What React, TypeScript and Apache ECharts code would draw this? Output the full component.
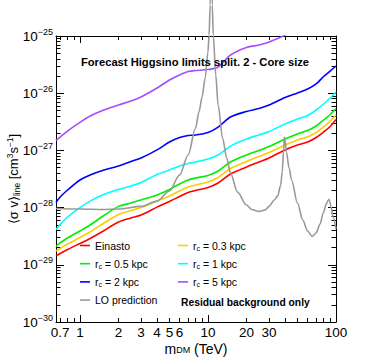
import { useEffect, useRef } from "react";
import * as echarts from "echarts";

const FONT = '"Liberation Sans", Arial, Helvetica, sans-serif';

// DM mass grid (TeV) for the forecast limit curves
const MASS_TEV = [0.65, 0.7, 0.8, 1, 1.2, 1.5, 2, 2.5, 3, 4, 5, 6, 7, 8, 10, 12, 15, 20, 25, 30, 40, 50, 60, 70, 80, 90, 100];

// <sigma v>_line limits (cm^3 s^-1)
const EINASTO = [1.43e-29, 1.58e-29, 1.85e-29, 2.36e-29, 2.88e-29, 3.82e-29, 5.6e-29, 6.58e-29, 7.42e-29, 1.02e-28, 1.28e-28, 1.56e-28, 1.84e-28, 1.99e-28, 2.25e-28, 2.69e-28, 3.87e-28, 5.13e-28, 6.27e-28, 7.36e-28, 1.02e-27, 1.24e-27, 1.4e-27, 1.68e-27, 2.1e-27, 2.62e-27, 3.47e-27];
const RC_03 = [1.74e-29, 1.93e-29, 2.31e-29, 3.0e-29, 3.75e-29, 5.17e-29, 7.57e-29, 8.9e-29, 1.0e-28, 1.3e-28, 1.6e-28, 1.95e-28, 2.29e-28, 2.48e-28, 2.8e-28, 3.36e-28, 4.83e-28, 6.4e-28, 7.82e-28, 9.19e-28, 1.24e-27, 1.52e-27, 1.72e-27, 2.06e-27, 2.57e-27, 3.27e-27, 4.16e-27];
const RC_05 = [2.13e-29, 2.41e-29, 2.94e-29, 3.9e-29, 4.96e-29, 6.99e-29, 1.05e-28, 1.2e-28, 1.36e-28, 1.66e-28, 2.07e-28, 2.59e-28, 3.04e-28, 3.29e-28, 3.64e-28, 4.36e-28, 6.27e-28, 8.31e-28, 9.96e-28, 1.17e-27, 1.58e-27, 1.94e-27, 2.23e-27, 2.67e-27, 3.4e-27, 4.24e-27, 5.4e-27];
const RC_1 = [4.14e-29, 5.06e-29, 6.85e-29, 1.0e-28, 1.3e-28, 1.66e-28, 2.07e-28, 2.39e-28, 2.75e-28, 3.79e-28, 4.54e-28, 5.34e-28, 5.9e-28, 6.27e-28, 7.07e-28, 8.31e-28, 1.19e-27, 1.58e-27, 1.86e-27, 2.14e-27, 2.89e-27, 3.54e-27, 4.08e-27, 5.09e-27, 6.47e-27, 8.25e-27, 1.05e-26];
const RC_2 = [1.23e-28, 1.53e-28, 2.03e-28, 3.04e-28, 3.72e-28, 4.45e-28, 5.33e-28, 6.4e-28, 7.36e-28, 1.02e-27, 1.4e-27, 1.68e-27, 1.82e-27, 1.86e-27, 2.06e-27, 2.56e-27, 3.84e-27, 4.79e-27, 5.4e-27, 6.22e-27, 8.41e-27, 1.01e-26, 1.18e-26, 1.45e-26, 1.96e-26, 2.44e-26, 2.99e-26];
const RC_5 = [1.5e-27, 1.71e-27, 2.18e-27, 3.08e-27, 3.99e-27, 4.99e-27, 6.22e-27, 7.31e-27, 8.59e-27, 1.23e-26, 1.7e-26, 2.08e-26, 2.39e-26, 2.49e-26, 2.59e-26, 2.87e-26, 4.66e-26, 6.3e-26, 6.97e-26, 7.85e-26, 1.04e-25, 1.45e-25];

// LO prediction
const LO_MASS = [0.65, 1, 1.5, 2, 3, 4, 5, 6, 7, 8, 8.5, 9, 9.5, 10, 10.2, 10.4, 10.6, 10.8, 11, 11.5, 12, 13, 14, 15, 17, 20, 22, 25, 28, 30, 33, 35, 37, 38, 39, 39.5, 40, 41, 43, 45, 50, 55, 60, 65, 70, 75, 80, 84, 87, 88, 89, 91, 95, 100];
const LO_SIGMA = [9.65e-29, 9.45e-29, 9.26e-29, 9.45e-29, 1.05e-28, 1.3e-28, 1.95e-28, 3.72e-28, 8.31e-28, 2.46e-27, 4.69e-27, 8.58e-27, 1.84e-26, 5.25e-26, 1.04e-25, 3.48e-25, 4.76e-24, 3.48e-25, 1.04e-25, 2.08e-26, 6.22e-27, 1.65e-27, 7.36e-28, 4.03e-28, 1.87e-28, 1.11e-28, 9.26e-29, 8.55e-29, 9.08e-29, 1.05e-28, 1.36e-28, 1.6e-28, 2.48e-28, 4.19e-28, 1.02e-27, 1.72e-27, 1.52e-27, 9.38e-28, 4.92e-28, 3.04e-28, 1.2e-28, 6.07e-29, 3.9e-29, 3.13e-29, 3.6e-29, 5.17e-29, 8.38e-29, 1.16e-28, 1.36e-28, 1.39e-28, 1.33e-28, 1.07e-28, 6.85e-29, 4.23e-29];

// axis ticks / labels
const X_LABELS = [0.7, 1, 2, 3, 4, 5, 6, 10, 20, 30, 100];
const X_MAJOR = [1, 10, 100];
const X_MINOR = [0.7, 0.8, 0.9, 2, 3, 4, 5, 6, 7, 8, 9, 20, 30, 40, 50, 60, 70, 80, 90];
const Y_DECADES = [-30, -29, -28, -27, -26, -25];
const Y_MANTISSAS = [2, 3, 4, 5, 6, 7, 8, 9];

const X_MIN_TEV = 0.65;
const X_MAX_TEV = 100;

const CURVES = [
  { key: "ein", label: "Einasto", color: "#ff0000", values: EINASTO },
  { key: "rc03", label: "0.3 kpc", color: "#ffcc00", values: RC_03 },
  { key: "rc05", label: "0.5 kpc", color: "#00ee00", values: RC_05 },
  { key: "rc1", label: "1 kpc", color: "#00ffff", values: RC_1 },
  { key: "rc2", label: "2 kpc", color: "#0000ff", values: RC_2 },
  { key: "rc5", label: "5 kpc", color: "#a64dff", values: RC_5 },
];

const lg = Math.log10;

export default function App() {
  const ref = useRef<HTMLDivElement>(null);

  useEffect(() => {
    if (!ref.current) return;
    const chart = echarts.init(ref.current, undefined, { renderer: "svg" });

    const xmin = lg(X_MIN_TEV);
    const xmax = lg(X_MAX_TEV);
    const yMinorVals: number[] = [];
    Y_DECADES.slice(0, -1).forEach((d) => Y_MANTISSAS.forEach((m) => yMinorVals.push(d + lg(m))));

    const black = "#000";
    const xAx = (position: string, ticks: number[], len: number, labels: boolean, line: boolean) => ({
      type: "value",
      gridIndex: 0,
      position,
      min: xmin,
      max: xmax,
      axisLine: { show: line, onZero: false, lineStyle: { color: black, width: 1 } },
      axisTick: { show: true, inside: true, length: len, customValues: ticks, lineStyle: { color: black, width: 1 } },
      axisLabel: labels
        ? {
            show: true,
            customValues: X_LABELS.map(lg),
            formatter: (v: number) => String(Math.round(Math.pow(10, v) * 10) / 10),
            margin: 4,
            fontSize: 13.5,
            lineHeight: 12,
            fontFamily: FONT,
            color: black,
          }
        : { show: false },
      splitLine: { show: false },
    });
    const yAx = (position: string, ticks: number[], len: number, labels: boolean, line: boolean) => ({
      type: "value",
      gridIndex: 0,
      position,
      min: -30,
      max: -25,
      axisLine: { show: line, onZero: false, lineStyle: { color: black, width: 1 } },
      axisTick: { show: true, inside: true, length: len, customValues: ticks, lineStyle: { color: black, width: 1 } },
      axisLabel: labels
        ? {
            show: true,
            customValues: Y_DECADES,
            formatter: (v: number) => `{b|10}{s|−${Math.abs(Math.round(v))}}`,
            margin: 3,
            rich: {
              b: { fontSize: 13.5, lineHeight: 18, fontFamily: FONT, color: black },
              s: { fontSize: 9, lineHeight: 10, verticalAlign: "top", fontFamily: FONT, color: black },
            },
          }
        : { show: false },
      splitLine: { show: false },
    });

    const curveSeries = CURVES.map((c) => ({
      type: "line",
      name: c.key,
      xAxisIndex: 0,
      yAxisIndex: 0,
      symbol: "none",
      smooth: 0.3,
      lineStyle: { color: c.color, width: 1.6 },
      itemStyle: { color: c.color },
      data: c.values.map((v, i) => [lg(MASS_TEV[i]), lg(v)]),
    }));
    const loSeries = {
      type: "line",
      name: "lo",
      xAxisIndex: 0,
      yAxisIndex: 0,
      symbol: "none",
      smooth: 0.3,
      smoothMonotone: "x",
      clip: false,
      lineStyle: { color: "#999999", width: 1.6 },
      itemStyle: { color: "#999999" },
      data: LO_SIGMA.map((v, i) => [lg(LO_MASS[i]), lg(v)]),
    };

    const legendName = (name: string) => {
      if (name === "ein") return "Einasto";
      if (name === "lo") return "LO prediction";
      const c = CURVES.find((k) => k.key === name);
      return `{t|r}{s|c}{t| = ${c ? c.label : ""}}`;
    };
    const legendText = {
      fontSize: 10.5,
      fontFamily: FONT,
      color: black,
      lineHeight: 12,
      rich: {
        t: { fontSize: 10.5, fontFamily: FONT, color: black, lineHeight: 12 },
        s: { fontSize: 7, fontFamily: FONT, color: black, lineHeight: 7, verticalAlign: "bottom" },
      },
    };
    const legendBase = {
      orient: "vertical",
      top: 234.5,
      icon: "rect",
      itemWidth: 10,
      itemHeight: 1.6,
      itemGap: 6.2,
      selectedMode: false,
      formatter: legendName,
      textStyle: legendText,
    };

    chart.setOption({
      animation: false,
      backgroundColor: "#ffffff",
      grid: { left: 56, right: 38, top: 36, bottom: 37, containLabel: false, outerBoundsMode: "none" },
      xAxis: [
        xAx("bottom", X_MAJOR.map(lg), 7, true, true),
        xAx("bottom", X_MINOR.map(lg), 4, false, false),
        xAx("top", X_MAJOR.map(lg), 7, false, true),
        xAx("top", X_MINOR.map(lg), 4, false, false),
      ],
      yAxis: [
        yAx("left", Y_DECADES, 8, true, true),
        yAx("left", yMinorVals, 4.5, false, false),
        yAx("right", Y_DECADES, 8, false, true),
        yAx("right", yMinorVals, 4.5, false, false),
      ],
      legend: [
        { ...legendBase, left: 75, data: ["ein", "rc05", "rc2", "lo"] },
        { ...legendBase, left: 173, data: ["rc03", "rc1", "rc5"] },
      ],
      series: [...curveSeries, loSeries],
      graphic: [
        {
          type: "text",
          x: 195,
          y: 62,
          z: 100,
          style: {
            text: "Forecast Higgsino limits split. 2 - Core size",
            fontSize: 11.2,
            fontWeight: "bold",
            fontFamily: FONT,
            fill: black,
            align: "center",
            verticalAlign: "middle",
          },
        },
        {
          type: "text",
          x: 181,
          y: 302,
          z: 100,
          style: {
            text: "Residual background only",
            fontSize: 10.3,
            fontWeight: "bold",
            fontFamily: FONT,
            fill: black,
            align: "left",
            verticalAlign: "middle",
          },
        },
        {
          type: "text",
          x: 196,
          y: 348.5,
          style: {
            text: "{m|m}{s|DM}{m| (TeV)}",
            align: "center",
            verticalAlign: "middle",
            rich: {
              m: { fontSize: 14, fontFamily: FONT, fill: black, lineHeight: 11 },
              s: { fontSize: 9, fontFamily: FONT, fill: black, lineHeight: 6, verticalAlign: "bottom" },
            },
          },
        },
        {
          type: "text",
          x: 13,
          y: 179,
          rotation: Math.PI / 2,
          style: {
            text: "{m|⟨σ v⟩}{s|line}{m| [cm}{p|3}{m|s}{p|−1}{m|]}",
            align: "center",
            verticalAlign: "middle",
            rich: {
              m: { fontSize: 13, fontFamily: FONT, fill: black, lineHeight: 16 },
              s: { fontSize: 8.5, fontFamily: FONT, fill: black, lineHeight: 8, verticalAlign: "bottom" },
              p: { fontSize: 8.5, fontFamily: FONT, fill: black, lineHeight: 9, verticalAlign: "top" },
            },
          },
        },
      ],
    });

    return () => chart.dispose();
  }, []);

  return (
    <div
      ref={ref}
      style={{ position: "absolute", left: 0, top: 0, width: 374, height: 359, background: "#fff" }}
    />
  );
}
